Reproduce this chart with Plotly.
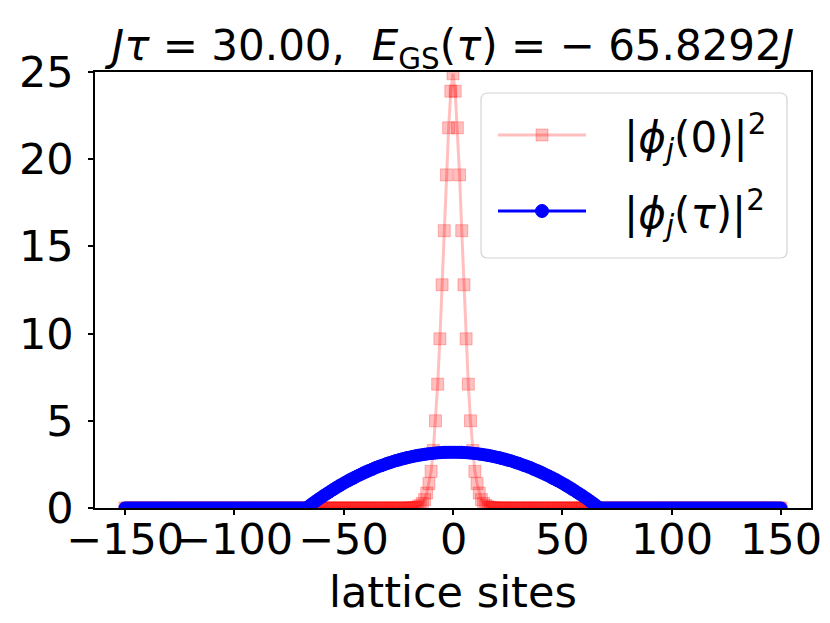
import plotly.graph_objects as go

# lattice sites j = -150 ... 150
sites = list(range(-150, 151))

# |phi_j(0)|^2 : initial narrow wave packet
phi0_sq = [
    0, 0, 0, 0, 0, 0, 0, 0, 0, 0,
    0, 0, 0, 0, 0, 0, 0, 0, 0, 0,
    0, 0, 0, 0, 0, 0, 0, 0, 0, 0,
    0, 0, 0, 0, 0, 0, 0, 0, 0, 0,
    0, 0, 0, 0, 0, 0, 0, 0, 0, 0,
    0, 0, 0, 0, 0, 0, 0, 0, 0, 0,
    0, 0, 0, 0, 0, 0, 0, 0, 0, 0,
    0, 0, 0, 0, 0, 0, 0, 0, 0, 0,
    0, 0, 0, 0, 0, 0, 0, 0, 0, 0,
    0, 0, 0, 0, 0, 0, 0, 0, 0, 0,
    0, 0, 0, 0, 0, 0, 0, 0, 0, 0,
    0, 0, 0, 0, 0, 0, 0, 0, 0, 0,
    0, 0, 0, 0, 0, 0, 0, 0, 0, 0,
    0.01, 0.01, 0.02, 0.04, 0.07, 0.14, 0.26, 0.48, 0.86, 1.4,
    2.1, 3.3, 5.0, 7.1, 9.7, 12.8, 15.9, 19.1, 21.8, 23.9,
    24.9,
    23.9, 21.8, 19.1, 15.9, 12.8, 9.7, 7.1, 5.0, 3.3, 2.1,
    1.4, 0.86, 0.48, 0.26, 0.14, 0.07, 0.04, 0.02, 0.01, 0.01,
    0, 0, 0, 0, 0, 0, 0, 0, 0, 0,
    0, 0, 0, 0, 0, 0, 0, 0, 0, 0,
    0, 0, 0, 0, 0, 0, 0, 0, 0, 0,
    0, 0, 0, 0, 0, 0, 0, 0, 0, 0,
    0, 0, 0, 0, 0, 0, 0, 0, 0, 0,
    0, 0, 0, 0, 0, 0, 0, 0, 0, 0,
    0, 0, 0, 0, 0, 0, 0, 0, 0, 0,
    0, 0, 0, 0, 0, 0, 0, 0, 0, 0,
    0, 0, 0, 0, 0, 0, 0, 0, 0, 0,
    0, 0, 0, 0, 0, 0, 0, 0, 0, 0,
    0, 0, 0, 0, 0, 0, 0, 0, 0, 0,
    0, 0, 0, 0, 0, 0, 0, 0, 0, 0,
    0, 0, 0, 0, 0, 0, 0, 0, 0, 0,
]

# |phi_j(tau)|^2 : ground state after imaginary-time evolution
phitau_sq = [
    0, 0, 0, 0, 0, 0, 0, 0, 0, 0, 0, 0,
    0, 0, 0, 0, 0, 0, 0, 0, 0, 0, 0, 0,
    0, 0, 0, 0, 0, 0, 0, 0, 0, 0, 0, 0,
    0, 0, 0, 0, 0, 0, 0, 0, 0, 0, 0, 0,
    0, 0, 0, 0, 0, 0, 0, 0, 0, 0, 0, 0,
    0, 0, 0, 0, 0, 0, 0, 0, 0, 0, 0, 0,
    0, 0, 0, 0, 0, 0, 0, 0, 0, 0, 0, 0,
    0.09, 0.19, 0.28, 0.37, 0.46, 0.55, 0.63, 0.72, 0.80, 0.88,
    0.96, 1.04, 1.12, 1.20, 1.27, 1.35, 1.42, 1.49, 1.56, 1.63,
    1.69, 1.76, 1.82, 1.88, 1.94, 2.00, 2.06, 2.12, 2.17, 2.22,
    2.28, 2.33, 2.38, 2.42, 2.47, 2.51, 2.56, 2.60, 2.64, 2.68,
    2.72, 2.75, 2.79, 2.82, 2.85, 2.89, 2.91, 2.94, 2.97, 2.99,
    3.02, 3.04, 3.06, 3.08, 3.10, 3.11, 3.13, 3.14, 3.15, 3.17,
    3.17, 3.18, 3.19, 3.19, 3.20, 3.20,
    3.20,
    3.20, 3.20, 3.19, 3.19, 3.18, 3.17,
    3.17, 3.15, 3.14, 3.13, 3.11, 3.10, 3.08, 3.06, 3.04, 3.02,
    2.99, 2.97, 2.94, 2.91, 2.89, 2.85, 2.82, 2.79, 2.75, 2.72,
    2.68, 2.64, 2.60, 2.56, 2.51, 2.47, 2.42, 2.38, 2.33, 2.28,
    2.22, 2.17, 2.12, 2.06, 2.00, 1.94, 1.88, 1.82, 1.76, 1.69,
    1.63, 1.56, 1.49, 1.42, 1.35, 1.27, 1.20, 1.12, 1.04, 0.96,
    0.88, 0.80, 0.72, 0.63, 0.55, 0.46, 0.37, 0.28, 0.19, 0.09,
    0, 0, 0, 0, 0, 0, 0, 0, 0, 0, 0, 0,
    0, 0, 0, 0, 0, 0, 0, 0, 0, 0, 0, 0,
    0, 0, 0, 0, 0, 0, 0, 0, 0, 0, 0, 0,
    0, 0, 0, 0, 0, 0, 0, 0, 0, 0, 0, 0,
    0, 0, 0, 0, 0, 0, 0, 0, 0, 0, 0, 0,
    0, 0, 0, 0, 0, 0, 0, 0, 0, 0, 0, 0,
    0, 0, 0, 0, 0, 0, 0, 0, 0, 0, 0, 0,
]

assert len(phi0_sq) == len(sites) == len(phitau_sq)

x_ticks = [-150, -100, -50, 0, 50, 100, 150]
x_ticktext = ["−150", "−100", "−50", "0", "50", "100", "150"]
y_ticks = [0, 5, 10, 15, 20, 25]

label0 = "|<i>ϕ</i><sub><i>j</i></sub>(0)|<sup>2</sup>"
label_tau = "|<i>ϕ</i><sub><i>j</i></sub>(<i>τ</i>)|<sup>2</sup>"
title_text = "<i>J</i><i>τ</i> = 30.00,  <i>E</i><sub>GS</sub>(<i>τ</i>) = − 65.8292<i>J</i>"
xlabel = "lattice sites"

FONT = "DejaVu Sans"
FS = 42
TICK_FS = 43
pink = "rgba(255,0,0,0.25)"

# plot area in pixels
W, H = 830, 623
L, R, T, B = 87, 803, 64, 500


def px(xp):
    return (xp - L) / (R - L)


def py(yp):
    return (B - yp) / (B - T)


fig = go.Figure()

fig.add_trace(go.Scatter(
    x=sites, y=phi0_sq,
    mode="lines+markers",
    name=label0,
    line=dict(color=pink, width=3),
    marker=dict(symbol="square", size=12, color=pink,
                line=dict(color=pink, width=1)),
    showlegend=False,
))

fig.add_trace(go.Scatter(
    x=sites, y=phitau_sq,
    mode="lines+markers",
    name=label_tau,
    line=dict(color="blue", width=3),
    marker=dict(symbol="circle", size=13, color="blue"),
    showlegend=False,
))

# legend drawn by hand (matplotlib-like long handles)
bx0, bx1, by0, by1, rad = 473, 779, 85, 250, 7
rx = rad / (R - L)
ry = rad / (B - T)
box_path = (
    f"M {px(bx0) + rx},{py(by0)} L {px(bx1) - rx},{py(by0)} "
    f"Q {px(bx1)},{py(by0)} {px(bx1)},{py(by0) - ry} "
    f"L {px(bx1)},{py(by1) + ry} "
    f"Q {px(bx1)},{py(by1)} {px(bx1) - rx},{py(by1)} "
    f"L {px(bx0) + rx},{py(by1)} "
    f"Q {px(bx0)},{py(by1)} {px(bx0)},{py(by1) + ry} "
    f"L {px(bx0)},{py(by0) - ry} "
    f"Q {px(bx0)},{py(by0)} {px(bx0) + rx},{py(by0)} Z"
)
shapes = [
    dict(type="path", xref="paper", yref="paper", path=box_path,
         fillcolor="rgba(255,255,255,0.8)", line=dict(color="#d4d4d4", width=1.2),
         layer="above"),
]
rows = [(127, label0, pink, "square", 12), (203, label_tau, "blue", "circle", 13)]
annotations = []
for yrow, text, col, sym, size in rows:
    shapes.append(dict(type="line", xref="paper", yref="paper",
                       x0=px(490), x1=px(578), y0=py(yrow), y1=py(yrow),
                       line=dict(color=col, width=3), layer="above"))
    half = size / 2
    shapes.append(dict(type="rect" if sym == "square" else "circle",
                       xref="paper", yref="paper",
                       xsizemode="pixel", ysizemode="pixel",
                       xanchor=px(534), yanchor=py(yrow),
                       x0=-half, x1=half, y0=-half, y1=half,
                       fillcolor=col, line=dict(color=col, width=1),
                       layer="above"))
    annotations.append(dict(text=text, xref="paper", yref="paper",
                            x=px(614), y=py(yrow + 2), xanchor="left", yanchor="middle",
                            showarrow=False, font=dict(family=FONT, size=FS)))

# x tick labels placed closer to the axis, as matplotlib does
for v, t in zip(x_ticks, x_ticktext):
    annotations.append(dict(text=t, xref="x", yref="paper",
                            x=v, y=py(531), xanchor="center", yanchor="middle",
                            showarrow=False, font=dict(family=FONT, size=TICK_FS)))

# x axis label
annotations.append(dict(text=xlabel, xref="paper", yref="paper",
                        x=0.5, y=py(584), xanchor="center", yanchor="middle",
                        showarrow=False, font=dict(family=FONT, size=43)))

fig.update_layout(
    width=W, height=H,
    margin=dict(l=L, r=W - R, t=T, b=H - B, autoexpand=False),
    paper_bgcolor="white",
    plot_bgcolor="white",
    font=dict(family=FONT, size=FS, color="black"),
    title=dict(
        text=title_text,
        x=0.5, xref="paper", xanchor="center",
        y=1 - 37 / H, yref="container", yanchor="middle",
        font=dict(family=FONT, size=42),
        automargin=False,
    ),
    shapes=shapes,
    annotations=annotations,
    showlegend=False,
)

fig.update_xaxes(
    range=[-163.7, 163.7],
    tickvals=x_ticks,
    showticklabels=False,
    automargin=False,
    ticks="outside", ticklen=5, tickwidth=1.6, tickcolor="black",
    showline=True, linecolor="black", linewidth=1.6, mirror=True,
    showgrid=False, zeroline=False,
)

fig.update_yaxes(
    range=[0, 25],
    tickvals=y_ticks,
    tickangle=0,
    automargin=False,
    ticks="outside", ticklen=5, tickwidth=1.6, tickcolor="black",
    tickfont=dict(family=FONT, size=TICK_FS),
    ticklabelstandoff=6,
    showline=True, linecolor="black", linewidth=1.6, mirror=True,
    showgrid=False, zeroline=False,
)

fig.write_html("out.html")
